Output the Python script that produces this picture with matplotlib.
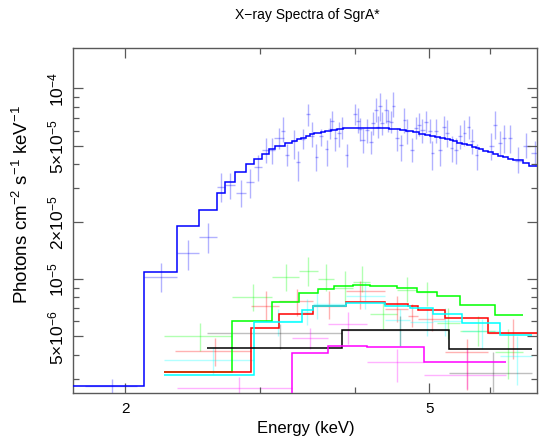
import numpy as np
import matplotlib
matplotlib.use("Agg")
import matplotlib.pyplot as plt
from matplotlib.ticker import NullFormatter

plt.rcParams['font.family'] = ['Liberation Sans', 'DejaVu Sans']
plt.rcParams['mathtext.fontset'] = 'custom'
plt.rcParams['mathtext.rm'] = 'Liberation Sans'
plt.rcParams['mathtext.it'] = 'Liberation Sans:italic'

# fluxes are in units of 1e-5 photons cm^-2 s^-1 keV^-1, energies in keV
UNIT = 1e-5

# ---- blue group (bright spectrum) ----
blue_edges = [1.70, 2.118, 2.339, 2.500, 2.634, 2.706, 2.789, 2.880, 2.950, 3.022, 3.086,
              3.143, 3.233, 3.302, 3.352, 3.393, 3.448, 3.489, 3.532, 3.604, 3.654,
              3.714, 3.782, 3.858, 3.913, 4.057, 4.432, 4.577, 4.661, 4.756, 4.851,
              4.935, 5.010, 5.086, 5.164, 5.242, 5.321, 5.375, 5.440, 5.512, 5.596,
              5.681, 5.755, 5.813, 5.883, 5.973, 6.064, 6.156, 6.238, 6.344, 6.440,
              6.626, 6.759, 7.00]
blue_model = [0.274, 1.084, 1.903, 2.309, 2.814, 3.215, 3.627, 3.996, 4.259, 4.541,
              4.787, 5.0, 5.168, 5.294, 5.404, 5.489, 5.643, 5.740, 5.808, 5.922,
              5.995, 6.045, 6.118, 6.170, 6.215, 6.20, 6.095, 6.023, 5.950, 5.878,
              5.780, 5.710, 5.643, 5.555, 5.468, 5.404, 5.339, 5.294, 5.186, 5.105,
              5.025, 4.941, 4.863, 4.787, 4.708, 4.617, 4.524, 4.433, 4.347, 4.259,
              4.192, 4.058, 3.914]

blue_e = [1.92, 2.228, 2.42, 2.567, 2.67, 2.747, 2.835, 2.915, 2.986, 3.054,
          3.11, 3.18, 3.22, 3.26, 3.33, 3.37, 3.42, 3.47, 3.51, 3.56,
          3.61, 3.67, 3.71, 3.73, 3.77, 3.81, 3.85, 3.90, 4.00, 4.03,
          4.06, 4.09, 4.15, 4.19, 4.22, 4.26, 4.28, 4.31, 4.34, 4.39,
          4.42, 4.46, 4.49, 4.54, 4.59, 4.64, 4.68, 4.75, 4.80, 4.85,
          4.90, 4.95, 5.01, 5.05, 5.11, 5.16, 5.23, 5.28, 5.35, 5.42,
          5.49, 5.56, 5.63, 5.69, 5.77, 6.03, 6.10, 6.19, 6.27, 6.38,
          6.54, 6.70, 6.87]
blue_de = [0.15, 0.11, 0.08, 0.067, 0.036, 0.041, 0.045, 0.035, 0.036, 0.032,
           0.028, 0.045, 0.02, 0.02, 0.02, 0.02, 0.02, 0.02, 0.02, 0.02,
           0.02, 0.02, 0.02, 0.02, 0.02, 0.02, 0.02, 0.02, 0.025, 0.025,
           0.025, 0.025, 0.025, 0.025, 0.025, 0.025, 0.025, 0.025, 0.025, 0.025,
           0.025, 0.025, 0.025, 0.025, 0.025, 0.025, 0.025, 0.03, 0.03, 0.03,
           0.03, 0.03, 0.03, 0.03, 0.03, 0.03, 0.03, 0.03, 0.03, 0.03,
           0.03, 0.03, 0.03, 0.03, 0.03, 0.04, 0.04, 0.04, 0.04, 0.04,
           0.07, 0.07, 0.07]
blue_f = [0.275, 1.03, 1.364, 1.654, 3.03, 3.11, 2.81, 3.21, 3.85, 4.77,
          4.77, 5.46, 5.98, 4.49, 5.31, 4.09, 5.42, 7.34, 5.60, 4.38,
          5.60, 4.81, 6.12, 6.71, 5.46, 5.81, 6.17, 4.49, 7.34, 6.76,
          6.12, 5.37, 6.05, 5.24, 6.56, 7.72, 6.31, 8.08, 6.59, 7.68,
          6.76, 6.63, 8.12, 5.46, 5.05, 6.83, 5.98, 4.76, 6.22, 6.46,
          6.05, 6.63, 5.98, 4.56, 5.98, 4.76, 6.31, 5.82, 4.85, 4.76,
          5.60, 5.82, 6.31, 5.31, 4.49, 5.0, 6.46, 5.17, 5.46, 5.46,
          4.16, 4.99, 4.58]
blue_lo = [0.24, 0.858, 1.115, 1.364, 2.52, 2.63, 2.38, 2.66, 3.28, 4.04,
           4.0, 4.81, 5.26, 3.90, 4.26, 3.28, 4.81, 6.32, 4.9, 3.67,
           5.0, 3.92, 5.4, 5.97, 4.7, 4.9, 5.42, 3.86, 6.4, 5.87,
           5.3, 4.6, 5.2, 4.5, 5.7, 6.63, 5.5, 6.76, 5.7, 6.6,
           5.9, 5.8, 7.05, 4.7, 4.17, 5.8, 5.1, 4.09, 5.4, 5.6,
           5.2, 5.8, 5.2, 3.74, 5.2, 3.9, 5.5, 4.9, 4.09, 4.0,
           4.8, 4.97, 5.42, 4.5, 3.72, 4.2, 5.42, 4.4, 4.6, 4.6,
           3.6, 4.3, 3.9]
blue_hi = [0.30, 1.21, 1.61, 1.96, 3.58, 3.59, 3.30, 3.77, 4.47, 5.51,
           5.5, 6.2, 7.05, 5.11, 6.02, 4.70, 6.12, 8.31, 6.63, 5.11,
           6.12, 5.37, 6.97, 7.6, 6.2, 6.7, 7.05, 5.11, 8.3, 7.88,
           7.0, 6.2, 6.9, 6.0, 7.5, 8.9, 7.2, 9.42, 7.5, 8.8,
           7.7, 7.6, 9.55, 6.2, 5.73, 7.9, 6.9, 5.5, 7.1, 7.4,
           6.9, 7.6, 6.9, 5.32, 6.9, 5.6, 7.2, 6.8, 5.64, 5.5,
           6.4, 6.8, 7.2, 6.1, 5.11, 5.8, 7.6, 6.0, 6.4, 6.4,
           4.9, 5.8, 5.3]

# ---- faint groups: model steps ----
green_edges = [2.249, 2.761, 3.115, 3.379, 3.571, 3.755, 3.976, 4.181, 4.532, 4.813,
               5.112, 5.484, 6.095, 6.626]
green_model = [0.324, 0.602, 0.761, 0.845, 0.886, 0.916, 0.930, 0.916, 0.894, 0.858,
               0.812, 0.731, 0.648]
red_edges = [2.249, 2.921, 3.181, 3.524, 3.889, 4.375, 4.693, 4.836, 5.242, 5.973, 7.0]
red_model = [0.324, 0.551, 0.653, 0.725, 0.755, 0.740, 0.725, 0.690, 0.622, 0.519]
cyan_edges = [2.249, 2.950, 3.403, 3.524, 3.889, 4.375, 4.717, 5.060, 5.512, 6.187, 6.808]
cyan_model = [0.314, 0.593, 0.690, 0.725, 0.749, 0.725, 0.702, 0.656, 0.588, 0.509]
black_edges = [2.558, 3.846, 5.310, 6.808]
black_model = [0.433, 0.542, 0.430]
magenta_edges = [2.335, 3.302, 3.687, 4.140, 4.925, 6.300]
magenta_model = [0.20, 0.409, 0.447, 0.438, 0.368]

# ---- faint groups: data (bin low, bin high, centre, flux, lower, upper) ----
green_elo = [2.249, 2.761, 3.115, 3.379, 3.571, 3.755, 3.976, 4.181, 4.532, 4.813, 5.112, 5.484, 6.095]
green_ehi = [2.761, 3.115, 3.379, 3.571, 3.755, 3.976, 4.181, 4.532, 4.813, 5.112, 5.484, 6.095, 6.626]
green_e = [2.507, 2.937, 3.246, 3.472, 3.662, 3.878, 4.078, 4.352, 4.670, 4.960, 5.294, 5.796, 6.344]
green_f = [0.501, 0.802, 1.021, 1.105, 1.0, 0.894, 0.961, 0.656, 0.879, 0.852, 0.588, 0.536, 0.413]
green_lo = [0.418, 0.682, 0.868, 0.922, 0.868, 0.755, 0.852, 0.547, 0.755, 0.725, 0.485, 0.447, 0.299]
green_hi = [0.588, 0.941, 1.199, 1.300, 1.199, 1.105, 1.174, 0.755, 1.021, 0.961, 0.700, 0.642, 0.547]

red_elo = [2.325, 2.921, 3.181, 3.524, 3.889, 4.375, 4.693, 4.836, 5.242, 5.973]
red_ehi = [2.921, 3.181, 3.524, 3.889, 4.375, 4.693, 4.836, 5.242, 5.973, 6.917]
red_e = [2.623, 3.053, 3.352, 3.699, 4.057, 4.532, 4.75, 5.036, 5.606, 6.440]
red_f = [0.418, 0.725, 0.770, 0.725, 0.868, 0.696, 0.642, 0.617, 0.416, 0.519]
red_lo = [0.348, 0.604, 0.642, 0.617, 0.696, 0.597, 0.559, 0.536, 0.260, 0.381]
red_hi = [0.489, 0.868, 0.886, 0.868, 0.980, 0.818, 0.740, 0.700, 0.485, 0.617]

cyan_elo = [2.249, 2.950, 3.403, 3.524, 3.889, 4.375, 4.717, 5.060, 5.512, 6.187]
cyan_ehi = [2.950, 3.403, 3.524, 3.889, 4.375, 4.717, 5.060, 5.512, 6.187, 6.808]
cyan_e = [2.603, 3.171, 3.455, 3.561, 4.119, 4.577, 4.960, 5.242, 5.855, 6.507]
cyan_f = [0.375, 0.604, 0.674, 0.740, 0.818, 0.612, 0.597, 0.604, 0.536, 0.393]
cyan_lo = [0.317, 0.504, 0.570, 0.617, 0.696, 0.447, 0.504, 0.504, 0.430, 0.276]
cyan_hi = [0.438, 0.696, 0.786, 0.852, 0.961, 0.696, 0.696, 0.700, 0.617, 0.504]

black_elo = [2.558, 3.846, 5.310]
black_ehi = [3.846, 5.310, 6.808]
black_e = [3.194, 4.577, 6.053]
black_f = [0.519, 0.542, 0.320]
black_lo = [0.430, 0.447, 0.256]
black_hi = [0.581, 0.642, 0.413]

magenta_elo = [2.335, 3.302, 3.687, 4.140, 4.925]
magenta_ehi = [3.302, 3.687, 4.140, 4.925, 6.300]
magenta_e = [2.820, 3.489, 3.917, 4.532, 5.606]
magenta_f = [0.267, 0.489, 0.581, 0.366, 0.314]
magenta_lo = [0.20, 0.430, 0.456, 0.287, 0.265]
magenta_hi = [0.305, 0.551, 0.669, 0.430, 0.430]

fig = plt.figure(figsize=(5.39, 4.39), dpi=100)
ax = fig.add_axes([73 / 539, 1 - 394 / 439, 464 / 539, 345 / 439])
ax.set_xscale('log')
ax.set_yscale('log')


def draw_data(e, f, lo, hi, xl, xh, color, alpha):
    e = np.array(e)
    f = np.array(f) * UNIT
    yerr = [f - np.array(lo) * UNIT, np.array(hi) * UNIT - f]
    xerr = [e - np.array(xl), np.array(xh) - e]
    ax.errorbar(e, f, xerr=xerr, yerr=yerr, fmt='none', ecolor=color,
                alpha=alpha, elinewidth=1.0, capsize=0, zorder=1)


be = np.array(blue_e)
bd = np.array(blue_de)
draw_data(blue_e, blue_f, blue_lo, blue_hi, be - bd, be + bd, 'blue', 0.3)
draw_data(green_e, green_f, green_lo, green_hi, green_elo, green_ehi, '#00ff00', 0.3)
draw_data(red_e, red_f, red_lo, red_hi, red_elo, red_ehi, 'red', 0.3)
draw_data(cyan_e, cyan_f, cyan_lo, cyan_hi, cyan_elo, cyan_ehi, 'cyan', 0.3)
draw_data(black_e, black_f, black_lo, black_hi, black_elo, black_ehi, 'black', 0.25)
draw_data(magenta_e, magenta_f, magenta_lo, magenta_hi, magenta_elo, magenta_ehi, 'magenta', 0.3)

models = [(blue_edges, blue_model, 'blue'),
          (green_edges, green_model, '#00ff00'),
          (red_edges, red_model, 'red'),
          (cyan_edges, cyan_model, 'cyan'),
          (black_edges, black_model, 'black'),
          (magenta_edges, magenta_model, 'magenta')]
for edges, vals, c in models:
    ax.stairs(np.array(vals) * UNIT, edges, baseline=None, color=c, lw=1.1, zorder=3)

ax.set_xlim(1.709, 6.92)
ax.set_ylim(2.52e-6, 1.63e-4)

ax.set_xticks([2, 5], ['2', '5'])
ax.set_xticks([3, 4, 6], minor=True)
ax.xaxis.set_minor_formatter(NullFormatter())
ax.set_yticks([5e-6, 1e-5, 2e-5, 5e-5, 1e-4],
              [r'$5{\times}10^{-6}$', r'$10^{-5}$', r'$2{\times}10^{-5}$',
               r'$5{\times}10^{-5}$', r'$10^{-4}$'])
ax.set_yticks([3e-6, 4e-6, 6e-6, 7e-6, 8e-6, 9e-6, 3e-5, 4e-5, 6e-5, 7e-5, 8e-5, 9e-5],
              minor=True)
ax.yaxis.set_minor_formatter(NullFormatter())

ax.tick_params(which='both', direction='in', top=True, right=True, color='0.35')
ax.tick_params(axis='x', labelsize=11, pad=6)
ax.tick_params(axis='y', labelsize=12.5, pad=5)
ax.tick_params(which='major', length=7, width=0.9)
ax.tick_params(which='minor', length=4, width=0.9)
for lab in ax.get_yticklabels():
    lab.set_rotation(90)
    lab.set_va('center')
for s in ax.spines.values():
    s.set_color('0.35')
    s.set_linewidth(1.0)

fig.text(307 / 539, 1 - 15 / 439, 'X\u2212ray Spectra of SgrA*', ha='center', va='center',
         fontsize=10)
fig.text(306 / 539, 1 - 429 / 439, 'Energy (keV)', ha='center', va='center', fontsize=12)
fig.text(22 / 539, 1 - 204 / 439, r'Photons cm$^{-2}$ s$^{-1}$ keV$^{-1}$', ha='center',
         va='center', rotation=90, fontsize=13.5)

fig.savefig('out.png', dpi=100)
